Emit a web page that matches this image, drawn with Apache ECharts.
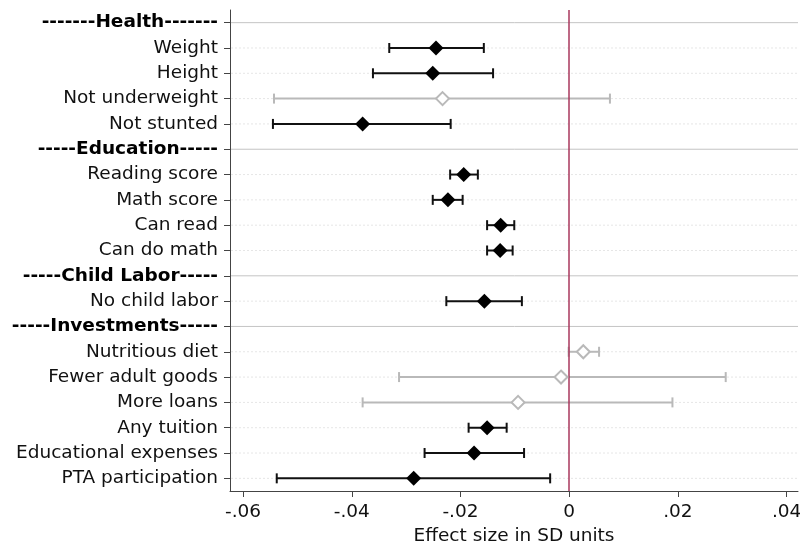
<!DOCTYPE html>
<html>
<head>
<meta charset="utf-8">
<script src="https://cdn.jsdelivr.net/npm/echarts@6/dist/echarts.min.js"></script>
<style>html,body{margin:0;padding:0;background:#fff}#c{width:800px;height:546px}</style>
</head>
<body>
<div id="c"></div>
<script>
var categories = ['-------Health-------', 'Weight', 'Height', 'Not underweight', 'Not stunted',
  '-----Education-----', 'Reading score', 'Math score', 'Can read', 'Can do math',
  '-----Child Labor-----', 'No child labor',
  '-----Investments-----', 'Nutritious diet', 'Fewer adult goods', 'More loans', 'Any tuition',
  'Educational expenses', 'PTA participation'];
var isHeader = [true, false, false, false, false, true, false, false, false, false, true, false, true, false, false, false, false, false, false];
var pointEst = [null, -0.0245, -0.0251, -0.0233, -0.0380, null, -0.0194, -0.0223, -0.0126, -0.0127, null, -0.0156, null, 0.0026, -0.0015, -0.0094, -0.0151, -0.0175, -0.0286];
var ciLow = [null, -0.0331, -0.0361, -0.0543, -0.0545, null, -0.0219, -0.0251, -0.0151, -0.0151, null, -0.0226, null, -0.0001, -0.0313, -0.0380, -0.0185, -0.0266, -0.0538];
var ciHigh = [null, -0.0157, -0.0140, 0.0075, -0.0218, null, -0.0168, -0.0196, -0.0101, -0.0104, null, -0.0087, null, 0.0055, 0.0288, 0.0190, -0.0115, -0.0083, -0.0035];
var significant = [null, true, true, false, true, null, true, true, true, true, null, true, null, false, false, false, true, true, true];
var xTicks = [-0.06, -0.04, -0.02, 0, 0.02, 0.04];
var xTitle = 'Effect size in SD units';

var FONT = 'DejaVu Sans';
var FS = 18.5;
var BLACK = '#111';
var GRAY = '#b9b9b9';

var gridData = [], barsSig = [], barsNs = [], ptsSig = [], ptsNs = [];
for (var i = 0; i < categories.length; i++) {
  gridData.push([0, i, isHeader[i] ? 1 : 0]);
  if (pointEst[i] === null) continue;
  if (significant[i]) {
    barsSig.push([ciLow[i], ciHigh[i], i]);
    ptsSig.push([pointEst[i], i]);
  } else {
    barsNs.push([ciLow[i], ciHigh[i], i]);
    ptsNs.push([pointEst[i], i]);
  }
}

function barRenderer(color) {
  return function (params, api) {
    var p1 = api.coord([api.value(0), api.value(2)]);
    var p2 = api.coord([api.value(1), api.value(2)]);
    var h = 5;
    var st = { stroke: color, lineWidth: 2 };
    return {
      type: 'group',
      children: [
        { type: 'line', shape: { x1: p1[0], y1: p1[1], x2: p2[0], y2: p2[1] }, style: st },
        { type: 'line', shape: { x1: p1[0], y1: p1[1] - h, x2: p1[0], y2: p1[1] + h }, style: st },
        { type: 'line', shape: { x1: p2[0], y1: p2[1] - h, x2: p2[0], y2: p2[1] + h }, style: st }
      ]
    };
  };
}

var chart = echarts.init(document.getElementById('c'), null, { renderer: 'canvas' });
chart.setOption({
  animation: false,
  backgroundColor: '#fff',
  grid: { left: 230, right: 2, top: 10, bottom: 55, outerBoundsMode: 'none' },
  xAxis: {
    type: 'value',
    min: -0.0624,
    max: 0.0421,
    name: xTitle,
    nameLocation: 'middle',
    nameGap: 35,
    nameTextStyle: { fontFamily: FONT, fontSize: FS, color: '#111' },
    axisLine: { show: true, onZero: false, lineStyle: { color: '#444', width: 1 } },
    axisTick: { show: true, length: 6, lineStyle: { color: '#444' }, customValues: xTicks },
    axisLabel: {
      customValues: xTicks,
      margin: 12,
      fontFamily: FONT, fontSize: FS, color: '#111',
      formatter: function (v) {
        if (Math.abs(v) < 1e-9) return '0';
        return v.toFixed(2).replace('0.', '.');
      }
    },
    splitLine: { show: false }
  },
  yAxis: {
    type: 'category',
    data: categories,
    inverse: true,
    axisLine: { show: true, onZero: false, lineStyle: { color: '#444', width: 1 } },
    axisTick: { show: true, alignWithLabel: true, length: 6, lineStyle: { color: '#444' } },
    axisLabel: {
      margin: 12,
      fontFamily: FONT, fontSize: FS, color: '#111',
      formatter: function (v, idx) {
        return isHeader[idx] ? '{b|' + v + '}' : v;
      },
      rich: { b: { fontFamily: FONT, fontSize: FS, fontWeight: 'bold', color: '#000' } }
    },
    splitLine: { show: false }
  },
  series: [
    {
      type: 'custom',
      z: 1,
      silent: true,
      data: gridData,
      renderItem: function (params, api) {
        var y = api.coord([0, api.value(1)])[1];
        var cs = params.coordSys;
        var hdr = api.value(2) === 1;
        return {
          type: 'line',
          shape: { x1: cs.x + 1, y1: y, x2: cs.x + cs.width, y2: y },
          style: hdr ? { stroke: '#c4c4c4', lineWidth: 1 } : { stroke: '#e6e6e6', lineWidth: 1, lineDash: [2, 2] }
        };
      },
      markLine: {
        silent: true,
        symbol: 'none',
        label: { show: false },
        lineStyle: { color: '#a8375d', width: 1.5, type: 'solid' },
        data: [{ xAxis: 0 }],
        z: 3
      }
    },
    { type: 'custom', z: 2, data: barsNs, renderItem: barRenderer(GRAY) },
    { type: 'custom', z: 4, data: barsSig, renderItem: barRenderer(BLACK) },
    {
      type: 'scatter', z: 5, data: ptsNs, symbol: 'diamond', symbolSize: 13,
      itemStyle: { color: '#fff', borderColor: GRAY, borderWidth: 2, opacity: 1 }
    },
    {
      type: 'scatter', z: 6, data: ptsSig, symbol: 'diamond', symbolSize: 15,
      itemStyle: { color: '#000', opacity: 1 }
    }
  ]
});
</script>
</body>
</html>
